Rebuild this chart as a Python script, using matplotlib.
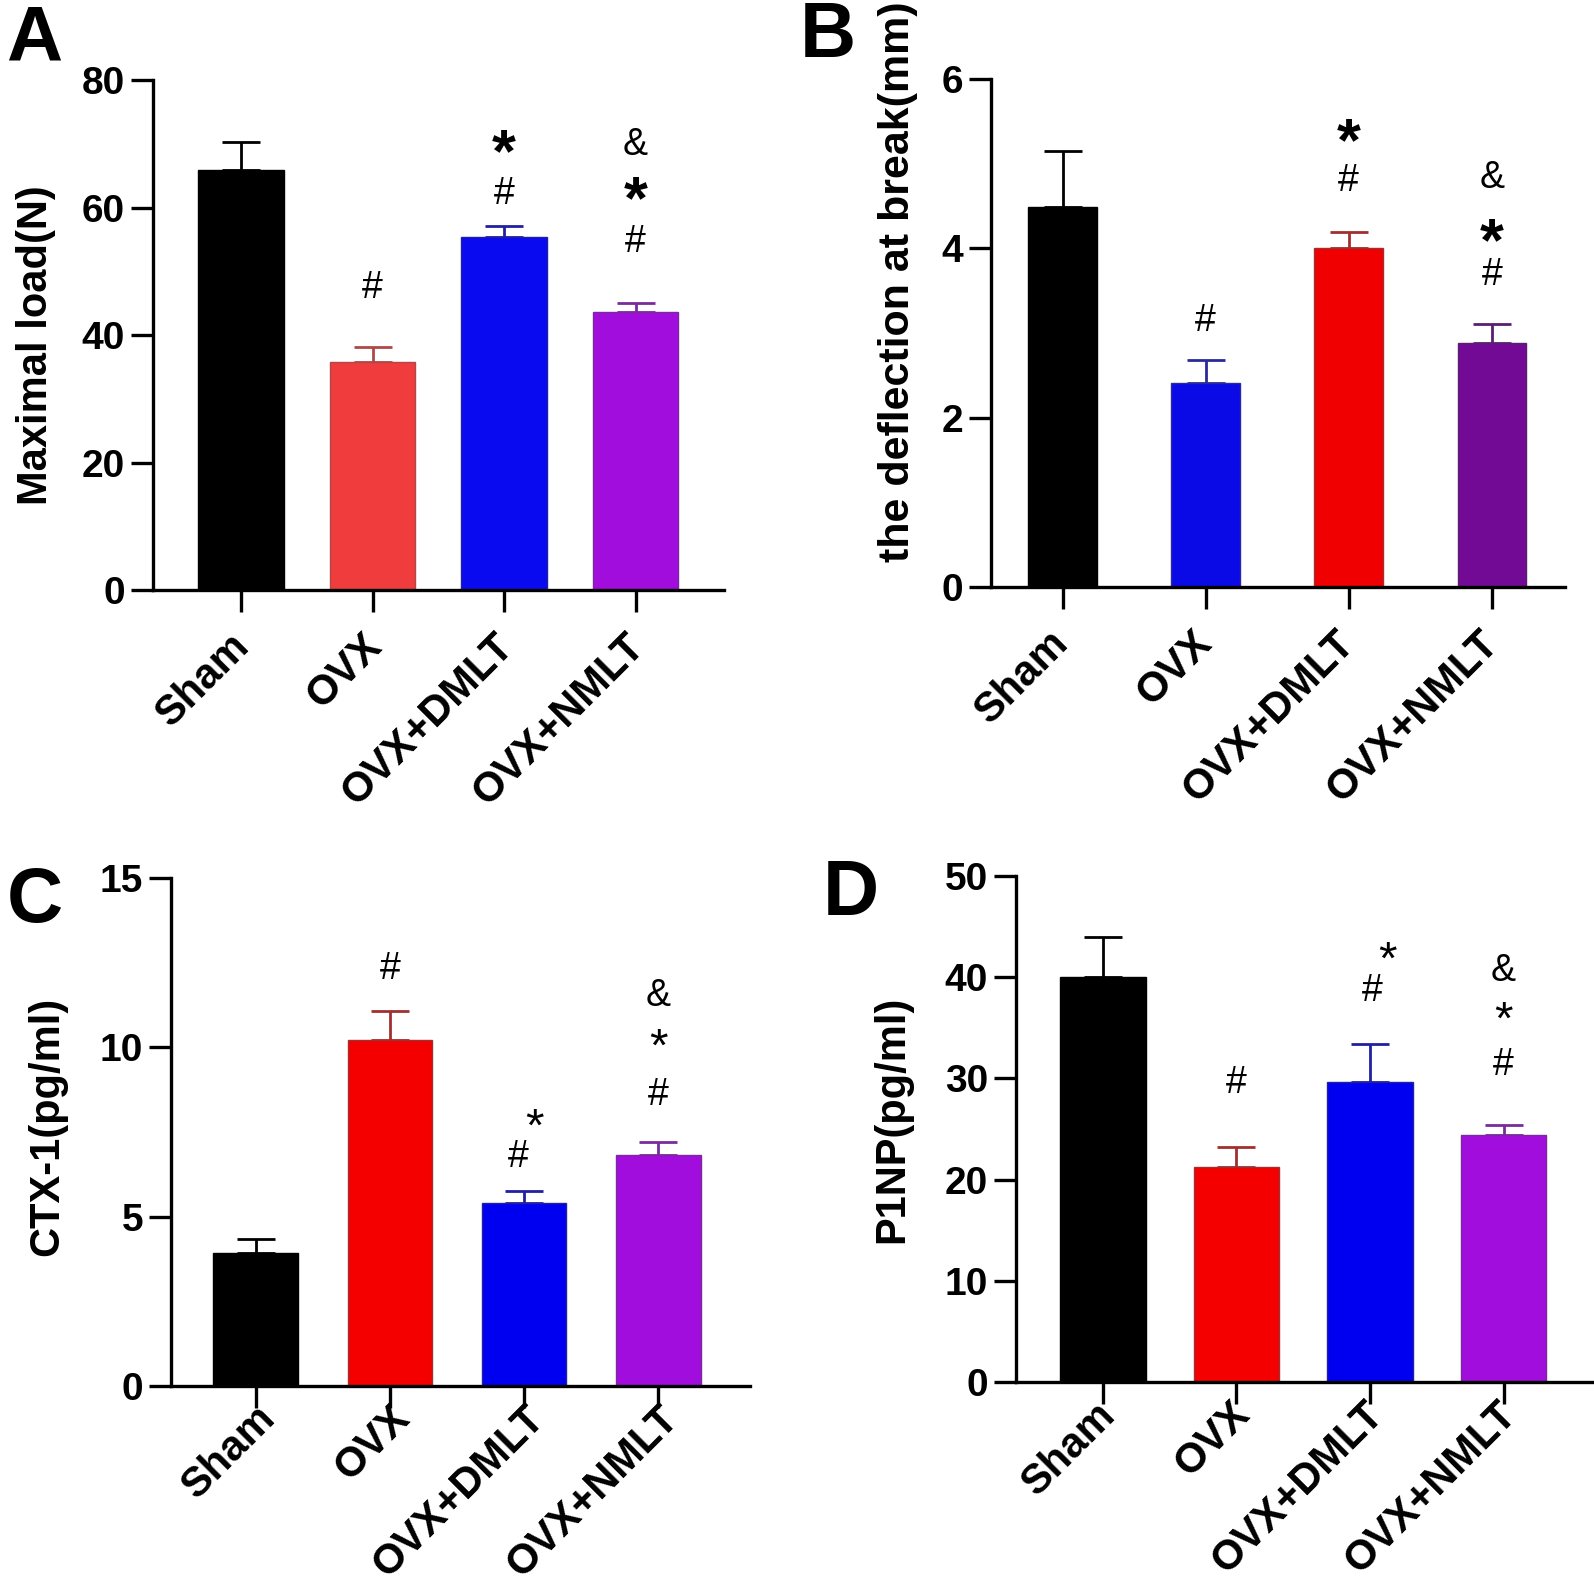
import matplotlib
matplotlib.use("Agg")
import matplotlib.pyplot as plt
from matplotlib.transforms import ScaledTranslation

plt.rcParams['font.family'] = ['Liberation Sans', 'DejaVu Sans']

groups = ["Sham", "OVX", "OVX+DMLT", "OVX+NMLT"]

# Panel A: Maximal load (N)
a_vals = [66.0, 35.8, 55.5, 43.6]
a_err = [4.4, 2.4, 1.7, 1.5]
a_colors = ["#000000", "#f03c3c", "#0a0af0", "#a00ddc"]
a_ecolors = ["#000000", "#b04848", "#2020a0", "#7a2a9a"]

# Panel B: deflection at break (mm)
b_vals = [4.49, 2.41, 4.00, 2.88]
b_err = [0.66, 0.27, 0.19, 0.23]
b_colors = ["#000000", "#0a0ae6", "#f00000", "#720a96"]
b_ecolors = ["#000000", "#2a2a9a", "#a03030", "#5a2070"]

# Panel C: CTX-1 (pg/ml)
c_vals = [3.92, 10.21, 5.39, 6.81]
c_err = [0.42, 0.87, 0.38, 0.39]
c_colors = ["#000000", "#f40000", "#0000f0", "#a00ddc"]
c_ecolors = ["#000000", "#a03030", "#2020a0", "#7a2a9a"]

# Panel D: P1NP (pg/ml)
d_vals = [39.97, 21.27, 29.6, 24.4]
d_err = [4.03, 1.93, 3.8, 0.95]
d_colors = ["#000000", "#f40000", "#0000f0", "#a00ddc"]
d_ecolors = ["#000000", "#a03030", "#2020a0", "#7a2a9a"]

fig = plt.figure(figsize=(15.94, 15.78), dpi=100)

FS = 28
XFS = 30
LW = 2.4

def panel(rect, vals, err, colors, ecolors, ymax, yticks, ylabel, xlim, width,
          letter, letter_pos, ylabel_xy, ylabel_fs, xpad, xshift, annots):
    ax = fig.add_axes(rect)
    x = list(range(len(vals)))
    ax.bar(x, vals, width=width, color=colors, edgecolor=ecolors, linewidth=1.0, zorder=2)
    for i in x:
        ax.errorbar(i, vals[i], yerr=[[0], [err[i]]], fmt='none', ecolor=ecolors[i],
                    elinewidth=2.0, capsize=13.5, capthick=2.0, zorder=1)
    for s in ['top', 'right']:
        ax.spines[s].set_visible(False)
    for s in ['left', 'bottom']:
        ax.spines[s].set_linewidth(LW)
    ax.set_xlim(*xlim)
    ax.set_ylim(0, ymax)
    ax.set_yticks(yticks)
    ax.set_yticklabels([str(t) for t in yticks], fontsize=FS, fontweight='bold')
    ax.set_xticks(x)
    ax.set_xticklabels(groups, fontsize=XFS, fontweight='bold', rotation=45,
                       ha='right', va='center', rotation_mode='anchor')
    ax.tick_params(axis='x', length=16, width=LW, pad=xpad)
    ax.tick_params(axis='y', length=16, width=LW, pad=4)
    if xshift:
        off = ScaledTranslation(xshift / 72.0, 0, fig.dpi_scale_trans)
        for lab in ax.get_xticklabels():
            lab.set_transform(lab.get_transform() + off)
    ax.set_ylabel(ylabel, fontsize=ylabel_fs, fontweight='bold')
    ax.yaxis.set_label_coords(*ylabel_xy)
    fig.text(letter_pos[0], letter_pos[1], letter, fontsize=56, fontweight='bold',
             ha='left', va='top')
    for (xi, yi, s, big) in annots:
        if s == '*' and big:
            ax.text(xi, yi, s, fontsize=44, fontweight='bold', ha='center', va='center')
        elif s == '*':
            ax.text(xi, yi, s, fontsize=34, ha='center', va='center')
        else:
            ax.text(xi, yi, s, fontsize=27, ha='center', va='center')
    ax.patch.set_alpha(0)
    return ax

panel([0.096, 0.626, 0.358, 0.323], a_vals, a_err, a_colors, a_ecolors, 80,
      [0, 20, 40, 60, 80], "Maximal load(N)", (-0.67, 3.67), 0.65,
      "A", (0.004, 0.998), (-0.17, 0.48), 30, 20, 2,
      [(1, 47.4, '#', False), (2, 62.2, '#', False), (2, 68.2, '*', True),
       (3, 54.6, '#', False), (3, 60.8, '*', True), (3, 69.8, '&', False)])

panel([0.6217, 0.628, 0.360, 0.322], b_vals, b_err, b_colors, b_ecolors, 6,
      [0, 2, 4, 6], "the deflection at break(mm)", (-0.50, 3.51), 0.48,
      "B", (0.502, 1.0), (-0.128, 0.60), 31, 20, 0,
      [(1, 3.14, '#', False), (2, 4.79, '#', False), (2, 5.22, '*', True),
       (3, 3.68, '#', False), (3, 4.04, '*', True), (3, 4.83, '&', False)])

panel([0.1073, 0.1217, 0.363, 0.322], c_vals, c_err, c_colors, c_ecolors, 15,
      [0, 5, 10, 15], "CTX-1(pg/ml)", (-0.63, 3.68), 0.63,
      "C", (0.004, 0.452), (-0.18, 0.51), 30, 3, 10,
      [(1, 12.3, '#', False), (1.96, 6.75, '#', False), (2.08, 7.6, '*', False),
       (3, 8.6, '#', False), (3, 9.95, '*', False), (3, 11.5, '&', False)])

panel([0.6374, 0.1242, 0.362, 0.3207], d_vals, d_err, d_colors, d_ecolors, 50,
      [0, 10, 20, 30, 40, 50], "P1NP(pg/ml)", (-0.65, 3.67), 0.64,
      "D", (0.516, 0.456), (-0.18, 0.52), 30, 3, 5,
      [(1, 29.5, '#', False), (2.02, 38.6, '#', False), (2.13, 41.5, '*', False),
       (3, 31.3, '#', False), (3, 35.6, '*', False), (3, 40.6, '&', False)])

fig.savefig("out.png", dpi=100)
